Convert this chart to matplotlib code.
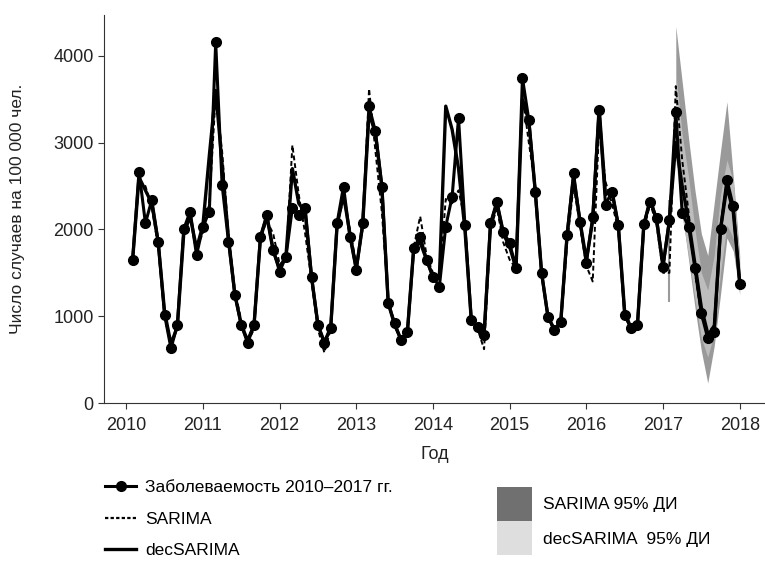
import matplotlib
matplotlib.use('Agg')
import matplotlib.pyplot as plt
from matplotlib.lines import Line2D
from matplotlib.patches import Patch
import numpy as np

plt.rcParams['font.family'] = ['Liberation Sans', 'DejaVu Sans']

# monthly data, Jan 2010 .. Dec 2017
years = list(range(2010, 2018))

observed = [
    1649, 2667, 2072, 2340, 1860, 1015, 630, 900, 2003, 2206, 1706, 2030,   # 2010
    2206, 4154, 2514, 1860, 1245, 900, 690, 900, 1918, 2168, 1764, 1514,    # 2011
    1687, 2250, 2170, 2250, 1456, 900, 688, 865, 2075, 2494, 1918, 1533,    # 2012
    2072, 3416, 3128, 2494, 1149, 919, 726, 822, 1784, 1918, 1649, 1456,    # 2013
    1341, 2033, 2379, 3283, 2052, 957, 880, 784, 2072, 2321, 1975, 1841,    # 2014
    1553, 3744, 3263, 2436, 1495, 995, 842, 938, 1937, 2648, 2090, 1611,    # 2015
    2148, 3378, 2283, 2436, 2052, 1015, 861, 900, 2064, 2321, 2129, 1572,   # 2016
    2110, 3350, 2187, 2033, 1553, 1034, 746, 822, 2003, 2571, 2264, 1372,   # 2017
]

sarima = [
    1649, 2550, 2500, 2250, 1800, 1000, 650, 900, 2000, 2150, 1800, 1950,
    2300, 3550, 2900, 1950, 1300, 950, 700, 850, 1900, 2100, 1950, 1600,
    1650, 2970, 2400, 1950, 1400, 850, 580, 850, 2050, 2350, 2000, 1600,
    2000, 3620, 2900, 2200, 1200, 900, 720, 800, 1800, 2150, 1700, 1500,
    1400, 2350, 2300, 2450, 2100, 950, 850, 620, 2000, 2250, 1850, 1650,
    1550, 3550, 3000, 2500, 1500, 980, 830, 900, 1850, 2500, 2050, 1580,
    1400, 3200, 2550, 2300, 2000, 1000, 850, 880, 2000, 2300, 2050, 1500,
    1500, 3650, 2800, 2200, 1500, 1000, 800, 900, 2000, 2550, 2250, 1350,
]

dec_sarima = [
    1649, 2600, 2450, 2300, 1850, 1050, 680, 880, 1950, 2150, 1780, 2050,
    2850, 3600, 2750, 1900, 1250, 900, 720, 900, 1900, 2150, 1750, 1550,
    1700, 2700, 2300, 2200, 1450, 900, 700, 870, 2050, 2400, 1950, 1550,
    2050, 3350, 3100, 2500, 1150, 900, 730, 820, 1800, 1850, 1650, 1450,
    1450, 3420, 3150, 2700, 2000, 950, 880, 790, 2050, 2300, 1950, 1800,
    1550, 3500, 3250, 2450, 1500, 990, 850, 930, 1950, 2600, 2100, 1650,
    2100, 3400, 2400, 2450, 2050, 1050, 860, 900, 2050, 2350, 2100, 1580,
    2100, 3000, 2500, 2100, 1600, 1100, 800, 850, 2000, 2500, 2200, 1400,
]

# 95% intervals of the 2017 forecast (Jan..Dec 2017)
sarima_lo = [1165, 2900, 2200, 1650, 1100, 600, 230, 650, 1250, 1900, 1750, 1250]
sarima_hi = [2340, 4340, 3700, 3050, 2450, 1950, 1700, 2300, 2900, 3470, 2600, 1700]
dec_lo = [1165, 2800, 2150, 1700, 1200, 750, 530, 800, 1500, 2050, 1900, 1300]
dec_hi = [2340, 3800, 3100, 2600, 2000, 1500, 1300, 1700, 2400, 2800, 2550, 1600]

# x positions: month m of year y drawn at y + m/12
t = np.array([y + m / 12 for y in years for m in range(1, 13)])
t_fc = t[-12:]

fig = plt.figure(figsize=(7.65, 5.62), dpi=100)
ax = fig.add_axes([104 / 765, 1 - 403 / 562, 1 - 104 / 765, (403 - 15) / 562])

# forecast bands (first month drawn as a thin bar, rest as filled band)
ax.vlines(t_fc[0], sarima_lo[0], sarima_hi[0], color='#9a9a9a', lw=1.5, zorder=1)
ax.fill_between(t_fc[1:], sarima_lo[1:], sarima_hi[1:], color='#9a9a9a', lw=0, zorder=1)
ax.fill_between(t_fc[1:], dec_lo[1:], dec_hi[1:], color='#bdbdbd', lw=0, zorder=2)

ax.plot(t, sarima, color='black', lw=1.4, linestyle=(0, (2.5, 1.5)), zorder=3)
ax.plot(t, dec_sarima, color='black', lw=2.4, zorder=4)
ax.plot(t, observed, color='black', lw=2.2, marker='o', markersize=7, zorder=5)

ax.set_xlim(2009.71, 2018.33)
ax.set_ylim(0, 4470)
ax.set_xticks(range(2010, 2019))
ax.set_yticks([0, 1000, 2000, 3000, 4000])
ax.spines['top'].set_visible(False)
ax.spines['right'].set_visible(False)
ax.spines['left'].set_color('#333333')
ax.spines['bottom'].set_color('#333333')
ax.tick_params(axis='both', labelsize=13, length=4, color='#333333', labelcolor='#222222')
ax.tick_params(axis='x', pad=6)
ax.set_xlabel('Год', fontsize=13, color='#222222', labelpad=9)
ax.set_ylabel('Число случаев на 100 000 чел.', fontsize=12.5, color='#222222', labelpad=20)

# left legend: lines
line_handles = [
    Line2D([], [], color='black', lw=2.2, marker='o', markersize=7),
    Line2D([], [], color='black', lw=1.6, linestyle=(0, (1.5, 1.0))),
    Line2D([], [], color='black', lw=2.4),
]
line_labels = ['Заболеваемость 2010–2017 гг.', 'SARIMA', 'decSARIMA']
fig.legend(line_handles, line_labels, loc='upper left',
           bbox_to_anchor=(105 / 765, 1 - 480 / 562), frameon=False,
           fontsize=12.5, borderpad=0, borderaxespad=0, handlelength=1.8,
           handletextpad=0.5, labelspacing=0.95)

# right legend: intervals
patch_handles = [Patch(facecolor='#707070', edgecolor='none'),
                 Patch(facecolor='#dedede', edgecolor='none')]
patch_labels = ['SARIMA 95% ДИ', 'decSARIMA  95% ДИ']
fig.legend(patch_handles, patch_labels, loc='upper left',
           bbox_to_anchor=(497 / 765, 1 - 487 / 562), frameon=False,
           fontsize=12.5, borderpad=0, borderaxespad=0, handlelength=2.0,
           handleheight=2.6, handletextpad=0.65, labelspacing=0.05)

fig.savefig('out.png', dpi=100)
